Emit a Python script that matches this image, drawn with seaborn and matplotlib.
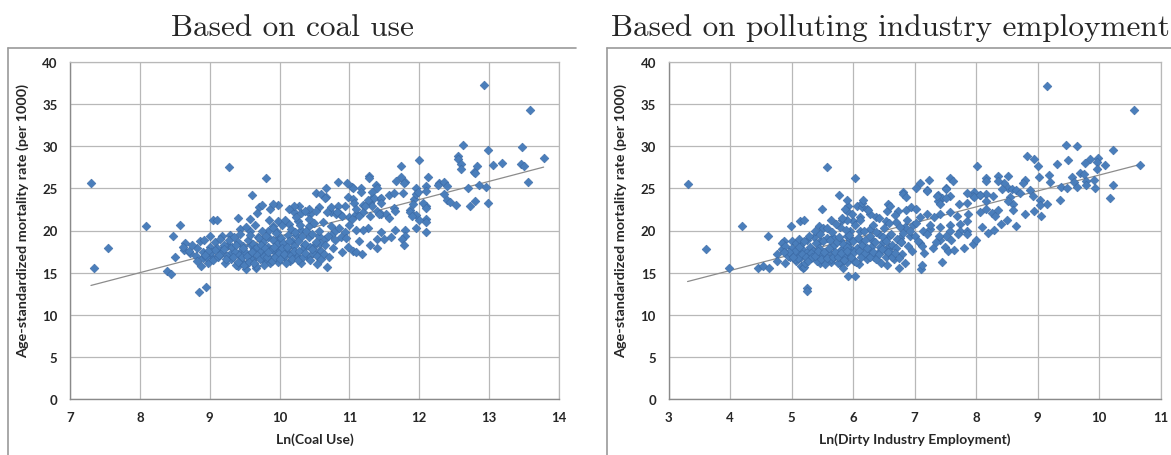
import numpy as np
import pandas as pd
import matplotlib
matplotlib.use("Agg")
import matplotlib.pyplot as plt
from matplotlib.lines import Line2D
import seaborn as sns

# ---------------------------------------------------------------
# values (x, mortality per 1000)

coal_points = [
    (7.30, 25.6), (7.35, 15.6), (7.55, 17.9), (8.09, 20.5), (8.58, 20.6), (8.48, 19.3),
    (8.50, 16.9), (8.39, 15.2), (8.44, 14.8), (8.84, 12.7), (8.94, 13.3),
    (9.04, 21.2), (9.10, 21.2), (9.28, 27.5), (9.61, 24.2), (9.80, 26.2), (9.40, 21.5),
    (9.57, 21.4), (9.70, 22.8), (9.75, 23.0), (9.87, 22.6), (9.68, 22.1),
    (8.65, 18.5), (8.63, 17.7), (8.86, 18.8), (9.00, 19.3), (9.17, 19.3), (9.29, 19.5),
    (9.44, 20.2), (9.58, 20.0), (8.72, 17.3), (8.82, 17.9), (8.90, 16.7), (8.97, 16.1),
    (8.87, 15.8), (9.02, 17.0), (9.16, 17.7), (9.26, 18.3), (9.30, 17.3), (9.45, 16.4),
    (9.52, 15.4), (9.66, 15.5), (9.40, 15.8), (9.59, 16.7), (9.73, 17.3), (9.78, 16.4),
    (9.87, 16.1), (9.92, 17.6), (9.97, 18.2), (9.83, 19.2), (9.97, 19.8), (9.59, 18.3),
    (9.45, 17.6), (9.69, 19.2),
    (12.92, 37.3), (13.59, 34.3), (12.62, 30.1), (13.47, 29.9), (12.99, 29.5), (13.78, 28.6),
    (12.55, 28.8), (12.56, 28.5), (12.00, 28.4), (13.18, 28.0), (13.05, 27.8), (13.45, 27.9),
    (13.50, 27.7), (12.60, 27.9), (11.74, 27.7), (12.82, 27.6), (12.60, 27.3), (12.78, 27.0),
    (12.80, 26.8), (11.28, 26.5), (11.74, 26.4), (11.28, 26.2), (12.13, 26.3), (13.55, 25.7),
    (11.80, 25.8), (11.78, 25.6), (10.84, 25.8), (10.96, 25.6), (11.38, 25.4), (11.03, 25.2),
    (11.17, 25.0), (12.28, 25.6), (12.27, 25.4), (12.36, 25.8), (12.40, 25.3), (12.10, 25.3),
    (11.96, 25.0), (12.85, 25.4), (12.96, 25.2), (12.70, 25.0), (10.52, 24.5), (10.60, 24.3),
    (10.67, 24.0), (10.98, 24.0), (11.05, 23.7), (11.33, 23.9), (11.44, 23.7), (11.56, 24.2),
    (11.64, 24.4), (11.93, 23.7), (11.95, 24.3), (12.35, 24.3), (12.40, 23.6), (12.44, 23.4),
    (12.52, 23.0), (12.80, 23.5), (12.99, 23.3), (12.72, 22.9), (12.09, 22.9), (11.91, 23.1),
    (11.64, 22.7), (11.20, 23.0), (10.20, 22.2), (10.30, 22.1), (10.44, 21.9), (10.74, 22.2),
    (10.81, 21.9), (11.40, 22.3), (11.30, 23.3), (11.06, 23.3), (11.87, 22.4), (11.96, 21.8),
    (12.10, 21.4), (11.45, 21.9), (11.53, 22.0), (11.10, 21.9), (11.20, 22.2), (11.00, 21.6),
    (10.86, 21.9),
    (11.67, 25.9), (10.67, 25.0), (11.05, 25.0), (11.17, 24.6), (11.40, 25.1), (11.33, 24.6),
    (11.98, 24.6), (12.10, 24.7), (10.65, 23.8), (11.26, 23.6), (11.35, 23.8), (11.45, 23.9),
    (11.77, 24.4), (12.05, 23.3), (11.45, 23.3), (11.33, 22.9), (11.22, 22.9), (11.10, 22.6),
    (10.94, 22.9), (10.84, 22.9), (10.73, 22.8), (10.56, 22.8), (10.42, 22.6), (10.28, 22.9),
    (10.20, 22.9), (9.98, 23.0), (9.90, 23.1), (10.13, 22.5), (10.37, 22.3), (10.52, 22.3),
    (10.68, 22.2), (10.82, 22.2), (10.90, 21.7), (11.03, 21.4), (11.13, 21.7), (11.30, 21.7),
    (11.42, 22.0), (11.56, 21.5), (11.65, 22.3), (11.86, 22.2), (11.90, 21.7), (12.00, 21.2),
    (12.10, 21.0), (12.10, 22.7), (11.65, 20.1), (11.79, 20.1), (11.79, 19.4), (11.45, 19.8),
    (11.40, 19.0), (11.26, 20.3), (11.20, 20.1), (11.10, 20.1), (11.14, 18.7), (10.93, 19.8),
    (10.88, 19.2), (10.80, 20.0), (10.73, 19.5), (10.65, 19.0), (10.56, 19.4), (10.58, 18.5),
    (10.50, 18.2), (10.56, 17.6), (10.42, 19.2), (10.35, 18.3), (10.23, 19.5), (10.18, 18.7),
    (10.07, 17.9), (10.10, 17.4), (9.98, 19.0), (9.84, 19.9), (9.90, 20.5), (9.98, 21.1),
    (10.13, 20.8), (10.27, 21.1), (10.42, 20.5), (10.30, 20.1),
    (8.62, 18.0), (8.70, 17.6), (8.75, 18.3), (8.80, 17.0), (8.82, 16.4), (8.90, 17.5),
    (8.92, 18.9), (8.95, 16.9), (9.00, 18.1), (9.02, 17.4), (9.05, 16.5), (9.08, 18.6),
    (9.10, 17.9), (9.12, 16.9), (9.15, 19.0), (9.18, 17.4), (9.20, 18.3), (9.22, 16.2),
    (9.25, 17.0), (9.27, 18.9), (9.30, 16.6), (9.32, 18.0), (9.35, 19.2), (9.36, 17.4),
    (9.38, 15.9), (9.40, 18.6), (9.42, 17.1), (9.44, 19.6), (9.46, 16.8), (9.48, 18.2),
    (9.50, 17.5), (9.52, 20.4), (9.53, 16.1), (9.55, 18.9), (9.57, 17.2), (9.58, 19.5),
    (9.60, 16.5), (9.62, 18.4), (9.63, 17.8), (9.65, 20.6), (9.66, 15.8), (9.68, 18.0),
    (9.70, 19.1), (9.71, 16.9), (9.73, 17.6), (9.75, 20.0), (9.76, 18.6), (9.78, 15.9),
    (9.80, 17.3), (9.81, 19.4), (9.83, 18.1), (9.85, 21.2), (9.86, 16.6), (9.88, 17.8),
    (9.90, 18.9), (9.91, 20.3), (9.93, 17.0), (9.95, 19.7), (9.96, 18.4), (9.98, 16.3),
    (10.00, 17.7), (10.02, 19.1), (10.03, 20.6), (10.05, 18.5), (10.07, 16.9), (10.08, 21.3),
    (10.10, 17.9), (10.12, 19.5), (10.14, 18.8), (10.15, 16.4), (10.17, 20.2), (10.19, 17.4),
    (10.20, 18.2), (10.22, 19.8), (10.24, 21.6), (10.25, 17.0), (10.27, 18.7), (10.29, 20.7),
    (10.30, 16.2), (10.32, 19.3), (10.34, 17.8), (10.36, 18.4), (10.38, 20.0), (10.40, 16.8),
    (10.42, 21.4), (10.44, 18.0), (10.46, 19.6), (10.48, 17.3), (10.50, 20.9), (10.52, 18.6),
    (10.54, 16.0), (10.57, 19.9), (10.60, 17.6), (10.62, 21.0), (10.65, 18.3), (10.68, 15.7),
    (10.70, 19.3), (10.73, 20.5), (10.76, 17.9), (10.80, 18.9), (10.85, 20.3), (10.90, 17.4),
    (10.95, 19.1), (10.98, 18.0), (11.00, 20.6), (11.05, 17.6), (11.10, 17.4), (11.18, 17.2),
    (11.30, 18.3), (11.40, 17.9), (11.50, 19.0), (11.60, 19.2), (11.75, 19.0), (11.78, 18.3),
    (12.10, 19.8), (11.95, 20.3),
    # dense core, overlapping markers
    (9.21, 17.8), (9.24, 16.6), (9.33, 16.9), (9.37, 18.3), (9.41, 16.3), (9.47, 17.9),
    (9.49, 15.9), (9.54, 17.0), (9.56, 16.3), (9.61, 17.5), (9.64, 16.2), (9.67, 17.1),
    (9.72, 16.6), (9.74, 18.3), (9.77, 17.0), (9.79, 17.9), (9.82, 16.8), (9.84, 17.5),
    (9.89, 16.4), (9.92, 18.0), (9.94, 16.8), (9.99, 17.3), (10.01, 16.6), (10.04, 17.9),
    (10.06, 17.2), (10.09, 16.2), (10.11, 18.1), (10.16, 17.1), (10.18, 16.6), (10.21, 17.6),
    (10.26, 16.5), (10.28, 17.6), (10.33, 16.9), (10.37, 17.3), (10.43, 16.5), (10.47, 17.8),
    (10.53, 17.0), (10.59, 16.6), (10.64, 17.2), (10.71, 16.9), (9.13, 17.1), (9.07, 17.7),
    (8.98, 17.6), (8.93, 17.1),
]

dirty_points = [
    (3.31, 25.5), (3.61, 17.8), (3.99, 15.5), (4.20, 20.5), (4.62, 19.3), (4.99, 20.5),
    (5.14, 21.1), (5.20, 21.3), (5.49, 22.5), (5.57, 27.5), (6.04, 26.2), (5.78, 24.2),
    (5.92, 22.9), (6.06, 22.9), (6.14, 22.8), (6.22, 22.6), (6.55, 22.3), (5.90, 22.3),
    (5.44, 20.5), (5.52, 20.3), (5.65, 21.3), (5.82, 21.3), (5.87, 22.5), (4.87, 18.8),
    (4.84, 18.5), (5.00, 18.7), (5.14, 18.3), (5.25, 18.9), (5.36, 19.2), (5.46, 18.7),
    (5.57, 19.1), (5.68, 19.2), (5.79, 18.9), (5.90, 19.3), (4.76, 17.2), (4.76, 16.4),
    (4.92, 17.2), (4.97, 16.8), (4.90, 16.2), (5.03, 17.3), (5.08, 16.4), (5.25, 17.1),
    (5.41, 17.4), (5.52, 16.8), (5.68, 17.1), (5.79, 17.6), (5.90, 17.1), (5.90, 16.3),
    (5.79, 16.1), (5.84, 15.5), (5.65, 16.3), (5.46, 16.1), (5.16, 15.8), (5.19, 15.6),
    (4.45, 15.5), (4.53, 15.8), (4.64, 15.6), (5.25, 13.2), (5.25, 12.8), (5.20, 15.7),
    (9.15, 37.2), (10.57, 34.3), (9.46, 30.1), (9.65, 30.0), (10.23, 29.5), (10.67, 27.8),
    (8.83, 28.8), (8.95, 28.5), (9.01, 27.7), (9.99, 28.6), (9.86, 28.5), (9.96, 28.1),
    (9.78, 28.0), (9.96, 27.3), (10.10, 27.8), (9.31, 27.9), (9.50, 28.4), (8.01, 27.7),
    (8.36, 26.5), (8.17, 26.2), (7.58, 26.2), (7.24, 26.0), (7.09, 25.6), (9.69, 26.8),
    (9.75, 26.7), (9.18, 26.6), (9.02, 26.3), (8.80, 26.0), (8.77, 25.6), (9.56, 26.3),
    (9.20, 25.7), (9.60, 25.7), (9.79, 25.9), (9.92, 26.0), (9.79, 25.4), (10.22, 25.4),
    (9.39, 25.2), (9.48, 25.1), (9.65, 25.2), (9.94, 25.1), (8.45, 25.6), (8.52, 25.1),
    (8.58, 24.9), (8.42, 24.9), (8.88, 24.8), (8.93, 24.1), (9.04, 23.6), (9.15, 23.2),
    (9.04, 23.0), (9.36, 23.6), (10.18, 23.8), (8.65, 24.8), (8.71, 24.4), (8.55, 24.0),
    (8.60, 23.2), (8.52, 23.5), (8.28, 24.1), (7.96, 24.6), (7.95, 24.1), (8.06, 24.2),
    (8.16, 24.3), (7.52, 25.1), (7.39, 24.2), (7.44, 23.9), (7.58, 24.1), (6.81, 24.6),
    (6.82, 24.3), (7.20, 24.8), (7.39, 23.5), (7.42, 23.2),
    (8.52, 26.5), (8.17, 25.9), (8.35, 25.9), (7.62, 25.9), (7.03, 25.1), (7.20, 24.7),
    (7.52, 24.9), (7.36, 24.1), (7.52, 23.9), (6.86, 24.0), (7.85, 24.5), (7.96, 24.0),
    (8.07, 24.2), (8.17, 23.5), (7.85, 23.3), (7.72, 23.1), (5.90, 23.6), (6.14, 23.3),
    (6.17, 23.6), (6.57, 23.2), (6.60, 22.9), (6.73, 22.3), (6.86, 22.4), (6.94, 22.8),
    (7.03, 22.5), (7.09, 21.6), (7.20, 21.9), (7.31, 21.6), (7.42, 22.0), (7.58, 22.2),
    (7.69, 21.7), (7.87, 22.0), (8.07, 22.2), (8.17, 22.5), (8.26, 22.1), (8.31, 21.7),
    (8.36, 22.4), (7.85, 21.1), (7.74, 20.8), (7.58, 20.7), (7.42, 20.4), (7.58, 19.9),
    (7.52, 19.4), (7.74, 19.9), (7.85, 19.9), (7.42, 18.9), (7.09, 18.5), (7.12, 18.2),
    (7.26, 20.2), (7.14, 19.9), (6.98, 20.7), (6.84, 20.4), (6.70, 21.0), (6.54, 21.1),
    (6.38, 21.6), (6.27, 21.9), (6.11, 21.6), (6.00, 21.1), (5.90, 21.3), (5.79, 20.4),
    (5.95, 19.9), (6.11, 19.9), (6.27, 20.2), (6.43, 19.6), (6.59, 19.4), (6.76, 19.1),
    (6.92, 19.4), (6.49, 18.6), (6.32, 18.8), (6.11, 18.9), (5.95, 19.0), (5.90, 18.4),
    (6.16, 18.2), (6.59, 18.0), (6.78, 18.6), (5.95, 17.9),
    (4.85, 17.8), (4.90, 18.2), (4.95, 17.0), (5.00, 17.9), (5.05, 16.6), (5.08, 18.5),
    (5.10, 17.3), (5.12, 19.0), (5.15, 16.9), (5.18, 17.7), (5.20, 18.8), (5.22, 16.2),
    (5.25, 17.5), (5.28, 19.4), (5.30, 18.1), (5.32, 16.7), (5.35, 17.6), (5.38, 20.0),
    (5.40, 18.5), (5.42, 16.4), (5.45, 17.9), (5.47, 19.6), (5.50, 17.2), (5.52, 18.7),
    (5.55, 16.0), (5.57, 20.3), (5.60, 17.6), (5.62, 18.9), (5.64, 16.6), (5.66, 19.8),
    (5.68, 18.2), (5.70, 17.0), (5.72, 20.8), (5.74, 18.6), (5.76, 16.2), (5.78, 19.2),
    (5.80, 17.7), (5.82, 21.5), (5.84, 18.4), (5.86, 16.9), (5.88, 20.1), (5.90, 18.0),
    (5.92, 14.6), (5.94, 19.5), (5.96, 17.3), (5.98, 22.0), (6.00, 18.7), (6.02, 16.4),
    (6.03, 14.6), (6.04, 20.6), (6.06, 17.9), (6.08, 19.1), (6.10, 16.0), (6.12, 21.2),
    (6.14, 18.3), (6.16, 17.1), (6.18, 20.0), (6.20, 18.9), (6.22, 16.6), (6.24, 22.4),
    (6.26, 17.6), (6.28, 19.4), (6.30, 18.1), (6.32, 20.7), (6.34, 16.9), (6.36, 18.6),
    (6.38, 19.8), (6.40, 17.3), (6.42, 21.5), (6.44, 18.0), (6.46, 16.2), (6.48, 19.2),
    (6.50, 20.3), (6.52, 17.7), (6.54, 18.8), (6.56, 15.9), (6.58, 20.9), (6.60, 17.4),
    (6.62, 19.6), (6.64, 18.3), (6.66, 16.6), (6.68, 21.8), (6.70, 17.9), (6.72, 19.0),
    (6.74, 15.6), (6.76, 20.4), (6.78, 18.6), (6.80, 17.2), (6.82, 19.7), (6.85, 16.1),
    (6.88, 21.2), (6.90, 18.2), (6.93, 20.0), (6.96, 17.6), (7.00, 19.3), (7.03, 20.9),
    (7.06, 18.7), (7.10, 15.4), (7.12, 15.9), (7.15, 17.3), (7.20, 19.6), (7.25, 20.6),
    (7.30, 17.9), (7.35, 18.6), (7.40, 19.3), (7.45, 16.3), (7.50, 18.1), (7.55, 17.6),
    (7.60, 18.9), (7.65, 17.7), (7.70, 19.6), (7.80, 17.9), (7.85, 19.6), (7.95, 18.4),
    (8.00, 18.9), (8.10, 20.4), (8.20, 19.7), (8.30, 20.1), (8.50, 21.3), (8.65, 20.5),
    (8.40, 20.8), (8.60, 22.4), (8.80, 21.9), (8.95, 22.3), (9.05, 21.7),
    # dense core, overlapping markers
    (5.06, 17.6), (5.11, 16.7), (5.17, 17.2), (5.23, 16.9), (5.27, 16.4), (5.31, 17.3),
    (5.34, 16.8), (5.39, 17.0), (5.43, 17.6), (5.48, 16.6), (5.53, 17.4), (5.58, 16.7),
    (5.61, 17.9), (5.67, 16.9), (5.71, 17.5), (5.75, 16.8), (5.81, 17.3), (5.85, 16.5),
    (5.91, 17.6), (5.97, 16.8), (6.01, 17.4), (6.05, 16.3), (6.09, 17.6), (6.13, 16.9),
    (6.19, 17.3), (6.23, 17.9), (6.27, 16.9), (6.33, 17.5), (6.37, 16.6), (6.43, 17.2),
    (6.47, 17.8), (6.53, 16.9), (6.57, 17.4), (6.63, 16.9), (6.69, 17.3), (6.75, 16.7),
    (4.96, 17.5), (4.88, 17.4), (5.02, 16.9), (5.13, 18.0),
]

titles = ["Based on coal use", "Based on polluting industry employment"]
xlabels = ["Ln(Coal Use)", "Ln(Dirty Industry Employment)"]
ylabel = "Age-standardized mortality rate (per 1000)"
xlims = [(7, 14), (3, 11)]
xticks = [list(range(7, 15)), list(range(3, 12))]
yticks = list(range(0, 45, 5))

coal_df = pd.DataFrame(coal_points, columns=["x", "rate"])
dirty_df = pd.DataFrame(dirty_points, columns=["x", "rate"])

#---------------------------------------------------------------

sns.set_style("white")
plt.rcParams['font.family'] = ['Lato', 'DejaVu Sans']

W, H = 1171, 456
fig = plt.figure(figsize=(W / 100, H / 100), dpi=100)

# axes boxes in pixels: left, top, right, bottom
boxes = [(70, 63, 559, 400), (668.5, 63, 1160.5, 400)]
frames = [(8, 49, 576), (607, 49, 1171)]
title_x = [292, 890]

marker_col = "#4a7ebb"
edge_col = "#3b6aa5"
grid_col = "#b8b8b8"

for i, df in enumerate([coal_df, dirty_df]):
    l, t, r, b = boxes[i]
    ax = fig.add_axes([l / W, 1 - b / H, (r - l) / W, (b - t) / H])

    sns.regplot(data=df, x="x", y="rate", ax=ax, scatter=False, ci=None,
                truncate=True, line_kws={"color": "#8c8c8c", "lw": 0.9, "zorder": 2})
    sns.scatterplot(data=df, x="x", y="rate", ax=ax, marker="D", s=20,
                    color=marker_col, edgecolor=edge_col, linewidth=0.4, zorder=3)

    ax.set_xlim(*xlims[i])
    ax.set_ylim(0, 40)
    ax.set_xticks(xticks[i])
    ax.set_yticks(yticks)
    ax.grid(True, color=grid_col, lw=0.9)
    ax.set_axisbelow(True)
    for side in ["top", "right"]:
        ax.spines[side].set_color(grid_col)
        ax.spines[side].set_linewidth(0.9)
    for side in ["left", "bottom"]:
        ax.spines[side].set_color("#8a8a8a")
        ax.spines[side].set_linewidth(1.0)
    ax.tick_params(length=0, labelsize=9.5, pad=9)
    for lab in ax.get_xticklabels() + ax.get_yticklabels():
        lab.set_fontweight("bold")
    ax.set_xlabel(xlabels[i], fontsize=10, fontweight="bold", labelpad=6)
    ax.set_ylabel(ylabel, fontsize=10.4, fontweight="bold")
    ax.yaxis.set_label_coords(-41 / (r - l), 0.53)

    # chart frame (top and left edge of the pasted chart)
    fx0, fy, fx1 = frames[i]
    fig.add_artist(Line2D([fx0 / W, fx1 / W], [1 - fy / H, 1 - fy / H],
                          color="#9a9a9a", lw=1.2, transform=fig.transFigure))
    fig.add_artist(Line2D([fx0 / W, fx0 / W], [1 - fy / H, 0],
                          color="#9a9a9a", lw=1.2, transform=fig.transFigure))

    fig.text(title_x[i] / W, 1 - 28 / H, titles[i], ha="center", va="center",
             fontsize=22.5, family="cmr10")

fig.savefig("out.png", dpi=100)
